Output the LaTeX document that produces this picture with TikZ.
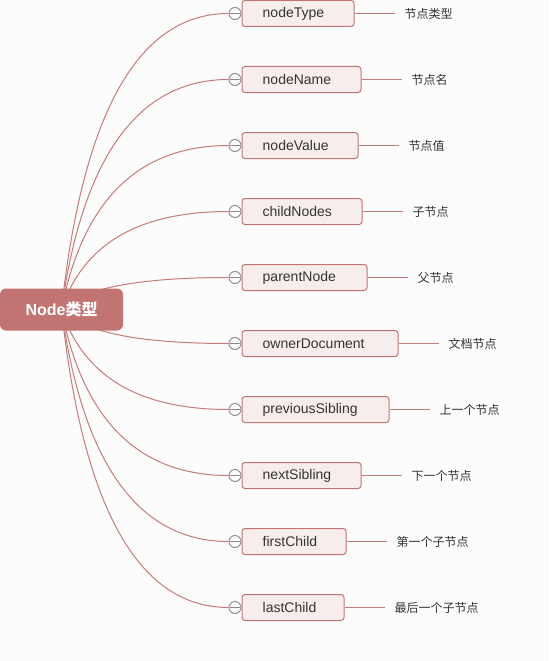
\documentclass[tikz,border=0pt]{standalone}
\usepackage{fontspec}
\setmainfont{Liberation Sans}
\newfontfamily\cjk{Noto Sans CJK SC}
\usetikzlibrary{calc,backgrounds}
\definecolor{bgc}{HTML}{FCFCFC}
\definecolor{rootc}{HTML}{C17472}
\definecolor{boxfill}{HTML}{F7EDED}
\definecolor{boxline}{HTML}{C47373}
\definecolor{curvec}{HTML}{C77B79}
\definecolor{txt}{HTML}{333333}
\definecolor{circc}{HTML}{8A8A8A}
\tikzset{
  rootbox/.style={draw=none, fill=rootc, rounded corners=6pt, minimum width=123pt, minimum height=42pt, inner sep=0pt,
    text=white, font=\fontsize{16}{18}\selectfont\bfseries},
  childbox/.style={draw=boxline, fill=boxfill, line width=1pt, rounded corners=3pt, minimum height=26pt, inner sep=0pt},
  childtext/.style={anchor=west, inner sep=0pt, text=txt, font=\fontsize{14}{16}\selectfont},
  labeltext/.style={anchor=west, inner sep=0pt, text=txt, font=\fontsize{12}{14}\selectfont\cjk},
  togglec/.style={circle, draw=circc, fill=bgc, line width=0.9pt, minimum size=12pt, inner sep=0pt},
  curve/.style={draw=curvec, line width=1pt},
  leadline/.style={draw=curvec, line width=1pt},
}
\begin{document}
\begin{tikzpicture}[x=1pt,y=-1pt]
\begin{pgfonlayer}{background}
\fill[bgc] (0,0) rectangle (550,661);
\end{pgfonlayer}
\useasboundingbox (0,0) rectangle (550,661);
\node[rootbox] (root) at (61.5,309.5) {Node{\cjk 类型}};
\foreach \i/\nm/\w/\lb in {0/nodeType/112/节点类型,1/nodeName/119/节点名,2/nodeValue/116/节点值,3/childNodes/120/子节点,4/parentNode/125/父节点,5/ownerDocument/156/文档节点,6/previousSibling/147/上一个节点,7/nextSibling/119/下一个节点,8/firstChild/104/第一个子节点,9/lastChild/102/最后一个子节点}{
  \pgfmathsetmacro{\yy}{13.5+66*\i}
  \pgfmathsetmacro{\xx}{242+\w/2}
  \node[childbox, minimum width=\w pt] (b\i) at (\xx,\yy) {};
  \node[childtext] (t\i) at ([xshift=21pt]b\i.west) {\nm};
  \node[togglec] (s\i) at ([xshift=-6.5pt]b\i.west) {};
  \draw[circc, line width=0.9pt] ([xshift=1.5pt]s\i.west) -- ([xshift=-1.5pt]s\i.east);
  \coordinate (e\i) at ([xshift=40pt]b\i.east);
  \draw[leadline] (b\i.east) -- (e\i);
  \node[labeltext] (l\i) at ([xshift=10pt]e\i) {\lb};
  \coordinate (k\i) at ([xshift=32pt]root.center |- s\i.west);
  \begin{pgfonlayer}{background}
    \draw[curve] (root.center) .. controls ($(root.center)!0.6667!(k\i)$) and ($(s\i.west)!0.6667!(k\i)$) .. (s\i.west);
  \end{pgfonlayer}
}
\end{tikzpicture}
\end{document}
